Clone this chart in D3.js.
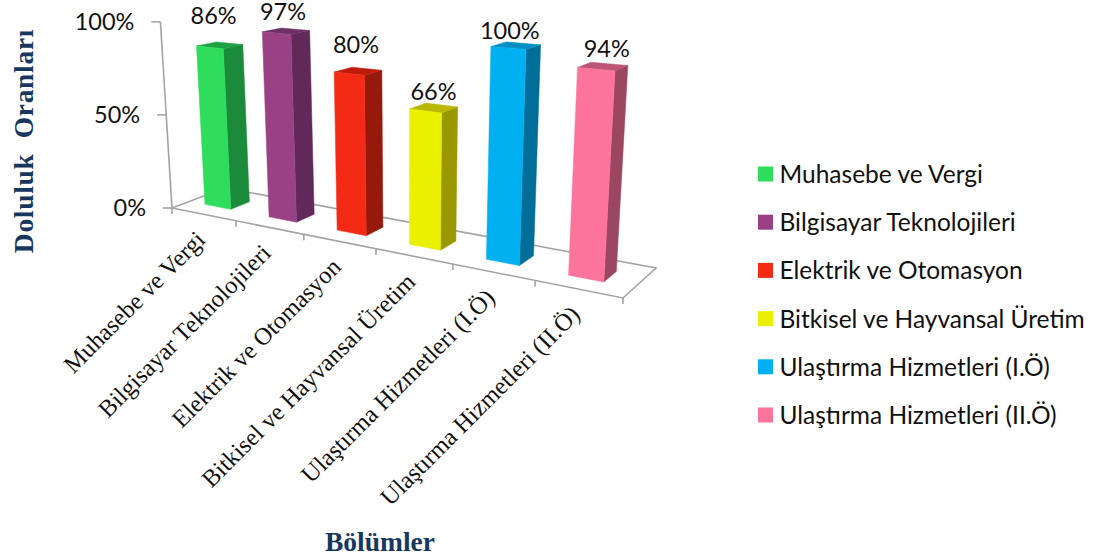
<!DOCTYPE html>
<html>
<head>
<meta charset="utf-8">
<script src="https://cdn.jsdelivr.net/npm/d3@7"></script>
<style>
html,body{margin:0;padding:0;background:#fff;overflow:hidden}
svg{display:block}
</style>
</head>
<body>
<svg id="chart" width="1098" height="558"></svg>
<script>
// ---- data ----
const categories = ["Muhasebe ve Vergi","Bilgisayar Teknolojileri","Elektrik ve Otomasyon","Bitkisel ve Hayvansal Üretim","Ulaştırma Hizmetleri (I.Ö)","Ulaştırma Hizmetleri (II.Ö)"];
const values = [86,97,80,66,100,94];
const valueLabels = ["86%","97%","80%","66%","100%","94%"];
const yTicks = [0,50,100];
const frontColors = ["#2EDD5C","#9A4185","#F42B14","#E9F000","#00B0F0","#FC739C"];
const sideColors  = ["#1B8B3B","#61295A","#97190B","#999800","#006E99","#9C4761"];
const topColors   = ["#1EA043","#6E3268","#C01C0C","#B8B800","#0090C4","#BC5575"];
const labelLift = [18,8,14,3,3,5];
const labelShift = [-6,-3,-2,0,-6,4];
const xTitle = "Bölümler";
const yTitle = "Doluluk\u00A0\u00A0Oranları";

// ---- perspective camera: floor homography + converging verticals ----
const corners = {a:[172,208], b:[623,298], c:[656,268], d:[225,188]};
function makeHomography({a,b,c,d}){
  const dx1=b[0]-c[0], dx2=d[0]-c[0], sx=a[0]-b[0]+c[0]-d[0];
  const dy1=b[1]-c[1], dy2=d[1]-c[1], sy=a[1]-b[1]+c[1]-d[1];
  const den=dx1*dy2-dx2*dy1;
  const g=(sx*dy2-dx2*sy)/den, h=(dx1*sy-sx*dy1)/den;
  const A=b[0]-a[0]+g*b[0], B=d[0]-a[0]+h*d[0], C=a[0];
  const D=b[1]-a[1]+g*b[1], E=d[1]-a[1]+h*d[1], F=a[1];
  return (u,w)=>{const q=g*u+h*w+1; return [(A*u+B*w+C)/q,(D*u+E*w+F)/q];};
}
const floor = makeHomography(corners);
const vanish = [408,4000];
const unitHeight = d3.scaleLinear().domain([204,277]).range([184,222]);
const yScale = d3.scaleLinear().domain([0,100]).range([0,1]);
const xScale = d3.scaleBand().domain(categories).range([0,1]).paddingInner(0.59).paddingOuter(0.295).align(0.42);
const tickScale = d3.scalePoint().domain(d3.range(7)).range([0,1]);

function project(u,w,v){
  const [px,py]=floor(u,w);
  const h=unitHeight(py)*v;
  return [px+(px-vanish[0])/(vanish[1]-py)*h, py-h];
}
const poly = pts => pts.map(p=>p.join(",")).join(" ");
const svg = d3.select("#chart");
const AXIS="#A3A3A3";
const w0=0.32, w1=0.68;

// ---- floor ----
svg.append("polygon").attr("points",poly([corners.a,corners.b,corners.c,corners.d]))
  .attr("fill","none").attr("stroke",AXIS).attr("stroke-width",1.6);

// ---- y axis ----
const yAxisG=svg.append("g");
yAxisG.append("line").attr("stroke",AXIS).attr("stroke-width",1.6)
  .attr("x1",project(0,0,0)[0]).attr("y1",project(0,0,0)[1])
  .attr("x2",project(0,0,1)[0]).attr("y2",project(0,0,1)[1]);
yTicks.forEach(t=>{
  const p=project(0,0,yScale(t));
  yAxisG.append("line").attr("stroke",AXIS).attr("stroke-width",1.6)
    .attr("x1",p[0]-9).attr("x2",p[0]).attr("y1",p[1]).attr("y2",p[1]);
  yAxisG.append("text").attr("x",p[0]-26).attr("y",p[1]+8).attr("text-anchor","end")
    .attr("font-family","Lato").attr("font-size",23.5).attr("fill","#111").text(t+"%");
});

// ---- x ticks ----
tickScale.domain().forEach(i=>{
  const p=floor(tickScale(i),0);
  svg.append("line").attr("stroke",AXIS).attr("stroke-width",1.6)
    .attr("x1",p[0]).attr("x2",p[0]).attr("y1",p[1]).attr("y2",p[1]+6);
});

// ---- bars ----
const bars=svg.selectAll("g.bar").data(categories).join("g").attr("class","bar");
bars.each(function(cat,i){
  const g=d3.select(this), u0=xScale(cat), u1=u0+xScale.bandwidth(), v=yScale(values[i]);
  const FLb=project(u0,w0,0),FRb=project(u1,w0,0),BRb=project(u1,w1,0);
  const FLt=project(u0,w0,v),FRt=project(u1,w0,v),BRt=project(u1,w1,v),BLt=project(u0,w1,v);
  const face=(pts,c)=>g.append("polygon").attr("points",poly(pts)).attr("fill",c).attr("stroke",c).attr("stroke-width",0.5);
  face([FRb,BRb,BRt,FRt],sideColors[i]);
  face([FLt,FRt,BRt,BLt],topColors[i]);
  face([FLb,FRb,FRt,FLt],frontColors[i]);
  const cx=(FLt[0]+BRt[0])/2+labelShift[i];
  const top=Math.min(BLt[1],BRt[1]);
  g.append("text").attr("x",cx).attr("y",top-labelLift[i]).attr("text-anchor","middle")
    .attr("font-family","Lato").attr("font-size",23.5).attr("fill","#111").text(valueLabels[i]);
});

// ---- category labels ----
categories.forEach((c,i)=>{
  const p=floor(tickScale(i)+tickScale.step()/2,0);
  svg.append("text")
    .attr("transform",`translate(${p[0]+3},${p[1]+27}) rotate(-45)`)
    .attr("text-anchor","end")
    .attr("font-family","'Liberation Serif'").attr("font-size",24.5).attr("fill","#111").text(c);
});

// ---- titles ----
svg.append("text").attr("transform","translate(33,141) rotate(-90)").attr("text-anchor","middle")
  .attr("font-family","'Liberation Serif'").attr("font-weight","bold").attr("font-size",27.5).attr("letter-spacing",0.7).attr("fill","#17375E").text(yTitle);
svg.append("text").attr("x",380).attr("y",551).attr("text-anchor","middle")
  .attr("font-family","'Liberation Serif'").attr("font-weight","bold").attr("font-size",27.5).attr("fill","#17375E").text(xTitle);

// ---- legend ----
const legendY=d3.scalePoint().domain(categories).range([174,415]);
const legend=svg.selectAll("g.leg").data(categories).join("g").attr("class","leg")
  .attr("transform",c=>`translate(758,${legendY(c)})`);
legend.append("rect").attr("x",0).attr("y",-7.5).attr("width",15).attr("height",15).attr("fill",(c,i)=>frontColors[i]);
legend.append("text").attr("x",21.5).attr("y",9).attr("font-family","Lato").attr("font-size",24.5).attr("fill","#111").text(c=>c);
</script>
</body>
</html>
